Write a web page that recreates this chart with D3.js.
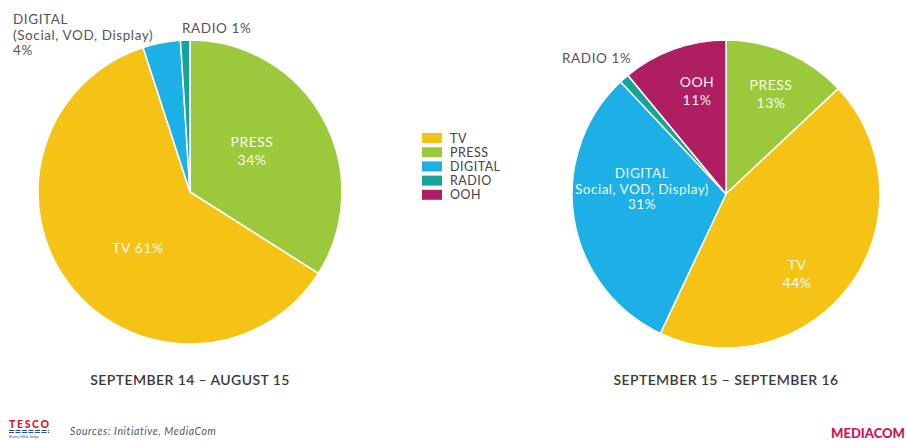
<!DOCTYPE html>
<html>
<head>
<meta charset="utf-8">
<script src="https://cdn.jsdelivr.net/npm/d3@7/dist/d3.min.js"></script>
<style>
  html, body { margin: 0; padding: 0; background: #fff; }
  svg { display: block; }
  text { font-family: "Lato", "Open Sans", sans-serif; }
</style>
</head>
<body>
<svg id="chart" width="907" height="441"></svg>
<script>
// Media channels (legend order) and colours
const channels = ["TV", "PRESS", "DIGITAL", "RADIO", "OOH"];
const channelColors = ["#f4c316", "#9cc83c", "#1cb0e6", "#17a29a", "#b01e62"];

// Slice order clockwise from 12 o'clock
const sliceOrder = ["PRESS", "TV", "DIGITAL", "RADIO", "OOH"];

// Share of spend (%) per period
const periods = ["SEPTEMBER 14 – AUGUST 15", "SEPTEMBER 15 – SEPTEMBER 16"];
const share2015 = { PRESS: 34, TV: 61, DIGITAL: 4, RADIO: 1, OOH: 0 };
const share2016 = { PRESS: 13, TV: 44, DIGITAL: 31, RADIO: 1, OOH: 11 };

const sources = "Sources: Initiative, MediaCom";

const svg = d3.select("#chart");
const color = d3.scaleOrdinal().domain(channels).range(channelColors);

const pie = d3.pie().sort(null).value(d => d.value);

function drawPie(share, cx, cy, r, title, titleY, labels) {
  const data = sliceOrder.map(k => ({ key: k, value: share[k] })).filter(d => d.value > 0);
  const arcs = pie(data);
  const arc = d3.arc().innerRadius(0).outerRadius(r);
  const g = svg.append("g").attr("transform", `translate(${cx},${cy})`);
  g.selectAll("path").data(arcs).join("path")
    .attr("d", arc)
    .attr("fill", d => color(d.data.key))
    .attr("stroke", "#fff")
    .attr("stroke-width", 1.5)
    .attr("stroke-linejoin", "round");

  labels.forEach(l => {
    const t = svg.append("text")
      .attr("x", cx + l.dx).attr("y", cy + l.dy)
      .attr("text-anchor", l.anchor || "middle")
      .attr("fill", l.inside ? "#fff" : "#555")
      .attr("font-size", l.size || 14)
      .attr("letter-spacing", l.ls != null ? l.ls : 0.5)
      .attr("opacity", l.inside ? 0.93 : 1);
    l.lines.forEach((line, i) => {
      t.append("tspan").attr("x", cx + l.dx).attr("dy", i === 0 ? 0 : (l.lh || 18)).text(line);
    });
  });

  svg.append("text")
    .attr("x", cx).attr("y", titleY)
    .attr("text-anchor", "middle")
    .attr("fill", "#3a3a3a")
    .attr("font-size", 14)
    .attr("font-weight", 600)
    .attr("letter-spacing", 0.4)
    .text(title);
}

// Left pie: Sep 14 – Aug 15
drawPie(share2015, 190, 192, 152, periods[0], 385, [
  { lines: ["PRESS", `${share2015.PRESS}%`], dx: 62, dy: -45, inside: true },
  { lines: [`TV ${share2015.TV}%`], dx: -52, dy: 61, inside: true },
  { lines: ["DIGITAL", "(Social, VOD, Display)", `${share2015.DIGITAL}%`], dx: -177, dy: -168, anchor: "start", size: 13.5, ls: 0.6, lh: 15.5 },
  { lines: [`RADIO ${share2015.RADIO}%`], dx: -8, dy: -159, anchor: "start", size: 13.5, ls: 0.6 }
]);

// Right pie: Sep 15 – Sep 16
drawPie(share2016, 726, 194, 154, periods[1], 385, [
  { lines: ["PRESS", `${share2016.PRESS}%`], dx: 45, dy: -104, inside: true },
  { lines: ["OOH", `${share2016.OOH}%`], dx: -29, dy: -107, inside: true },
  { lines: ["DIGITAL", "Social, VOD, Display)", `${share2016.DIGITAL}%`], dx: -84, dy: -16, inside: true, size: 13.5, lh: 15.5 },
  { lines: ["TV", `${share2016.TV}%`], dx: 71, dy: 76, inside: true },
  { lines: [`RADIO ${share2016.RADIO}%`], dx: -164, dy: -131, anchor: "start", size: 13.5, ls: 0.6 }
]);

// Legend
const legend = svg.append("g").attr("transform", "translate(422,133)");
channels.forEach((c, i) => {
  const row = legend.append("g").attr("transform", `translate(0,${i * 14.2})`);
  row.append("rect").attr("width", 20).attr("height", 10).attr("fill", color(c));
  row.append("text").attr("x", 28).attr("y", 9.5).attr("font-size", 12.5)
    .attr("letter-spacing", 0.5).attr("fill", "#444").text(c);
});

// Footer: Tesco mark, sources, MediaCom mark
const tesco = svg.append("g").attr("transform", "translate(9,419)");
tesco.append("text").attr("x", 0).attr("y", 9).attr("font-size", 10.5).attr("font-weight", 900)
  .attr("fill", "#d6202e").attr("font-family", "Liberation Sans, Arial, sans-serif")
  .attr("textLength", 40).text("TESCO");
[11.5, 13.5].forEach(y => {
  tesco.append("line").attr("x1", 0).attr("x2", 40).attr("y1", y).attr("y2", y)
    .attr("stroke", "#1f4f9c").attr("stroke-width", 1.2).attr("stroke-dasharray", "5,1.5");
});
tesco.append("text").attr("x", 0).attr("y", 19).attr("font-size", 4.5).attr("fill", "#1f4f9c")
  .attr("font-style", "italic").text("Every little helps");

svg.append("text").attr("x", 70).attr("y", 435).attr("font-size", 10.5)
  .attr("letter-spacing", 0.6).attr("font-style", "italic").attr("fill", "#555").text(sources);

svg.append("text").attr("x", 831).attr("y", 438)
  .attr("font-size", 12.5).attr("font-weight", 900).attr("fill", "#d0134f")
  .attr("font-family", "Liberation Sans, Arial, sans-serif")
  .attr("textLength", 74).attr("lengthAdjust", "spacingAndGlyphs")
  .text("MEDIACOM");
</script>
</body>
</html>
